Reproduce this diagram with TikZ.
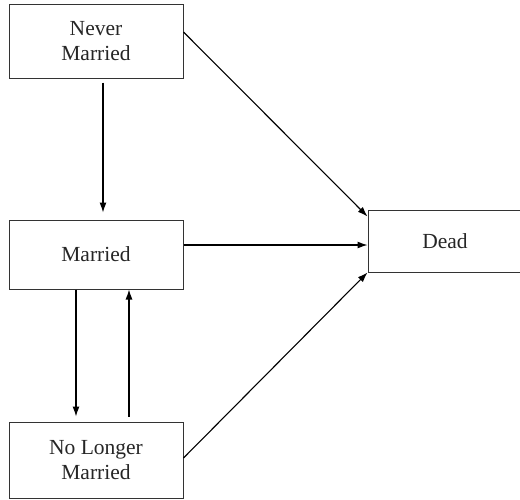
\documentclass[tikz,border=0pt]{standalone}
\usepackage{fontspec}
\setmainfont{Liberation Serif}
\newfontfamily\boxfont{Liberation Serif}
\usetikzlibrary{arrows.meta,calc}
\begin{document}
\begin{tikzpicture}[x=1pt,y=-1pt,
  statebox/.style={draw=black!80,line width=1pt,inner sep=0pt,align=center,
    font=\boxfont\fontsize{21.5}{25}\selectfont,text=black!85},
  conn/.style={draw=black,line width=1.1pt,-{Latex[length=10pt,width=7pt]}}]
\useasboundingbox (0,0) rectangle (520,499);
\node[statebox,minimum width=174pt,minimum height=74pt] (nm) at (96,41) {Never\\Married};
\node[statebox,minimum width=174pt,minimum height=69pt] (m) at (96,254.5) {Married};
\node[statebox,minimum width=174pt,minimum height=76pt] (nl) at (96,460) {No Longer\\Married};
\node[statebox,minimum width=154pt,minimum height=62pt] (d) at (445,241) {Dead};
\draw[conn] ($(nm.south)+(7,4)$) -- ($(m.north)+(7,-7)$);
\draw[conn] ($(m.south)+(-20,0)$) -- ($(nl.north)+(-20,-5)$);
\draw[conn] ($(nl.north)+(33,-5)$) -- ($(m.south)+(33,0)$);
\draw[conn] ($(m.east)+(0,-9.5)$) -- ($(d.west)+(0,4)$);
\draw[conn] ($(nm.east)+(0,-9)$) -- ($(d.north west)+(0,7)$);
\draw[conn] ($(nl.east)+(0,-2)$) -- (d.south west);
\end{tikzpicture}
\end{document}
